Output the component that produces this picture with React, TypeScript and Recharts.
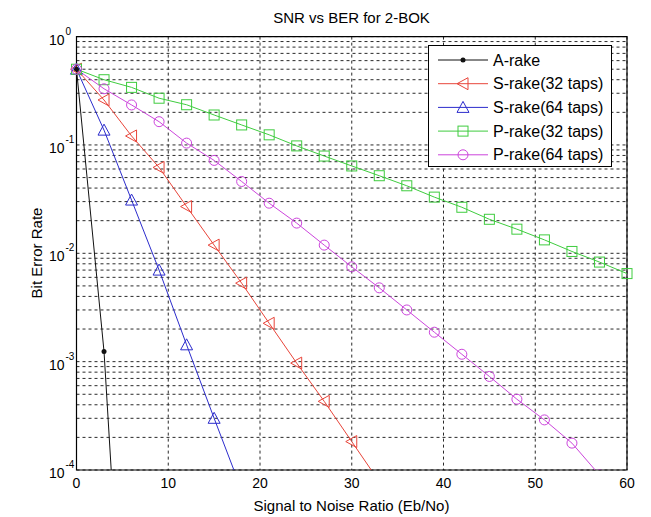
import { LineChart, Line, XAxis, YAxis, CartesianGrid, ReferenceArea, Legend } from "recharts";

// SNR (Eb/No) sample points, one marker every 3 dB
const snr = [0, 3, 6, 9, 12, 15, 18, 21, 24, 27, 30, 33, 36, 39, 42, 45, 48, 51, 54, 57, 60];

// BER values
const aRake = [0.5, 0.00124, 8e-8];
const sRake32 = [0.5, 0.26, 0.121, 0.062, 0.027, 0.0119, 0.0053, 0.00226, 0.00097, 0.00043, 0.000183, 0.000078];
const sRake64 = [0.5, 0.137, 0.031, 0.007, 0.00143, 0.0003, 0.000065];
const pRake32 = [0.5, 0.4, 0.34, 0.27, 0.235, 0.189, 0.153, 0.124, 0.098, 0.079, 0.064, 0.052, 0.042, 0.033, 0.0266, 0.0206, 0.0167, 0.0133, 0.0104, 0.0083, 0.0065];
const pRake64 = [0.5, 0.33, 0.234, 0.164, 0.104, 0.072, 0.046, 0.029, 0.019, 0.0119, 0.0075, 0.0048, 0.003, 0.00187, 0.00117, 0.00073, 0.00045, 0.00029, 0.000177, 0.00009, 0.000055];

const xTicks = [0, 10, 20, 30, 40, 50, 60];
const yTicks = [1, 0.1, 0.01, 0.001, 0.0001];
const yGridTicks = [
  0.0001, 0.0002, 0.0003, 0.0004, 0.0005, 0.0006, 0.0007, 0.0008, 0.0009,
  0.001, 0.002, 0.003, 0.004, 0.005, 0.006, 0.007, 0.008, 0.009,
  0.01, 0.02, 0.03, 0.04, 0.05, 0.06, 0.07, 0.08, 0.09,
  0.1, 0.2, 0.3, 0.4, 0.5, 0.6, 0.7, 0.8, 0.9, 1,
];

const series = [
  { key: "aRake", name: "A-rake", color: "#111111", shape: "dot", values: aRake },
  { key: "sRake32", name: "S-rake(32 taps)", color: "#e8453a", shape: "left", values: sRake32 },
  { key: "sRake64", name: "S-rake(64 taps)", color: "#2c2ccc", shape: "up", values: sRake64 },
  { key: "pRake32", name: "P-rake(32 taps)", color: "#3fcc3f", shape: "square", values: pRake32 },
  { key: "pRake64", name: "P-rake(64 taps)", color: "#cc45dc", shape: "circle", values: pRake64 },
];

const data = snr.map((s, i) => {
  const row: any = { snr: s };
  series.forEach((sr) => {
    row[sr.key] = sr.values[i] ?? null;
  });
  return row;
});

const FONT = "'Liberation Sans', Arial, sans-serif";

function Marker({ shape, cx, cy, color }: { shape: string; cx: number; cy: number; color: string }) {
  if (shape === "dot") return <circle cx={cx} cy={cy} r={2.5} fill={color} stroke="none" />;
  if (shape === "left")
    return <polygon points={`${cx - 6},${cy} ${cx + 5},${cy - 6} ${cx + 5},${cy + 6}`} fill="none" stroke={color} strokeWidth={1} />;
  if (shape === "up")
    return <polygon points={`${cx},${cy - 6} ${cx - 6},${cy + 5} ${cx + 6},${cy + 5}`} fill="none" stroke={color} strokeWidth={1} />;
  if (shape === "square")
    return <rect x={cx - 5} y={cy - 5} width={10} height={10} fill="none" stroke={color} strokeWidth={1} />;
  return <circle cx={cx} cy={cy} r={5} fill="none" stroke={color} strokeWidth={1} />;
}

const YTick = ({ x, y, payload }: any) => {
  const exp = Math.round(Math.log10(payload.value));
  return (
    <g>
      <text x={x - 4} y={y + 8} textAnchor="end" fontSize={14} fontFamily={FONT} fill="#000">
        10
      </text>
      <text x={x - 3} y={y - 2} textAnchor="start" fontSize={10} fontFamily={FONT} fill="#000">
        {exp}
      </text>
    </g>
  );
};

const LegendBox = () => (
  <div style={{ width: 184, height: 122, border: "1px solid #000", background: "#fff", boxSizing: "border-box" }}>
    <svg width={182} height={120}>
      {series.map((sr, i) => {
        const cy = 14 + i * 23.7;
        return (
          <g key={sr.key}>
            <line x1={9} x2={59} y1={cy} y2={cy} stroke={sr.color} strokeWidth={1} />
            <Marker shape={sr.shape} cx={34} cy={cy} color={sr.color} />
            <text x={64} y={cy + 5.5} fontSize={16} fontFamily={FONT} fill="#000">
              {sr.name}
            </text>
          </g>
        );
      })}
    </svg>
  </div>
);

export default function App() {
  return (
    <div style={{ position: "absolute", left: 0, top: 0, width: 651, height: 517, background: "#fff", fontFamily: FONT }}>
      <div style={{ position: "absolute", left: 76, width: 551, top: 9, textAlign: "center", fontSize: 15, lineHeight: "18px" }}>
        SNR vs BER for 2-BOK
      </div>
      <div
        style={{
          position: "absolute",
          left: 37,
          top: 253,
          fontSize: 15,
          lineHeight: "18px",
          whiteSpace: "nowrap",
          transform: "translate(-50%, -50%) rotate(-90deg)",
        }}
      >
        Bit Error Rate
      </div>
      <div style={{ position: "absolute", left: 76, width: 551, top: 497, textAlign: "center", fontSize: 15, lineHeight: "18px" }}>
        Signal to Noise Ratio (Eb/No)
      </div>
      <LineChart width={651} height={517} data={data} margin={{ top: 36.6, right: 24, bottom: 0, left: 0 }}>
        <XAxis
          dataKey="snr"
          type="number"
          domain={[0, 60]}
          ticks={xTicks}
          axisLine={false}
          tickLine={false}
          height={47}
          tick={{ fill: "#000", fontSize: 14, fontFamily: FONT }}
          tickMargin={2}
        />
        <YAxis
          yAxisId="ber"
          scale="log"
          domain={[0.0001, 1]}
          allowDataOverflow
          ticks={yTicks}
          axisLine={false}
          tickLine={false}
          width={76.5}
          tick={<YTick />}
        />
        <YAxis yAxisId="grid" scale="log" domain={[0.0001, 1]} allowDataOverflow ticks={yGridTicks} interval={0} hide />
        <CartesianGrid yAxisId="grid" stroke="#2a2a2a" strokeDasharray="3 3" />
        {series.map((sr) => (
          <Line
            key={sr.key}
            yAxisId="ber"
            dataKey={sr.key}
            name={sr.name}
            stroke={sr.color}
            strokeWidth={1}
            isAnimationActive={false}
            dot={(p: any) =>
              p.cx == null || p.cy == null || p.value == null ? (
                <g key={`${sr.key}-${p.index}`} />
              ) : (
                <g key={`${sr.key}-${p.index}`}>
                  <Marker shape={sr.shape} cx={p.cx} cy={p.cy} color={sr.color} />
                </g>
              )
            }
            activeDot={false}
          />
        ))}
        <ReferenceArea yAxisId="ber" x1={0} x2={60} y1={0.0001} y2={1} fill="none" stroke="#000" strokeWidth={1.2} />
        <Legend
          layout="vertical"
          align="center"
          verticalAlign="middle"
          content={() => <LegendBox />}
          wrapperStyle={{ left: 428, top: 45, width: 184, height: 122 }}
        />
      </LineChart>
    </div>
  );
}
